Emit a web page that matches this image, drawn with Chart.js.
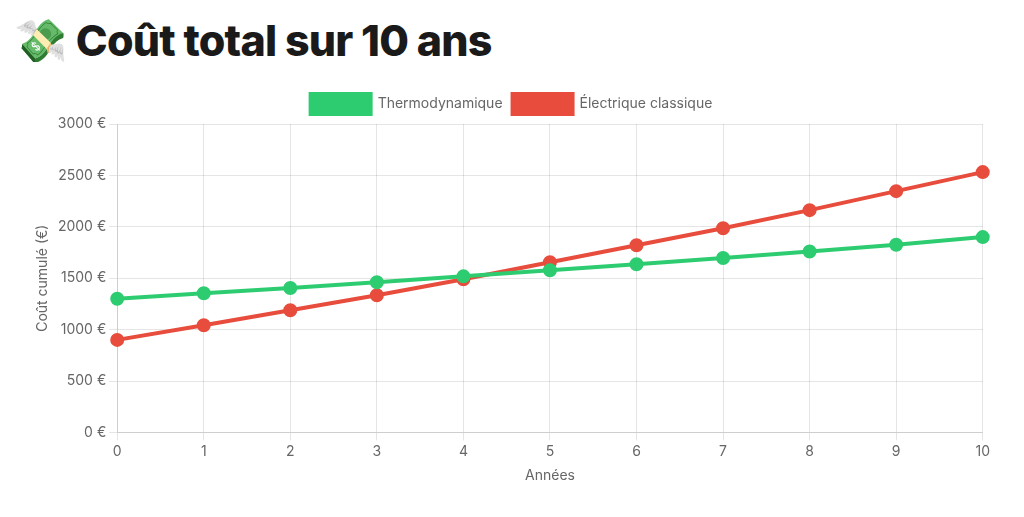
<!DOCTYPE html>
<html>
<head>
<meta charset="utf-8">
<script src="https://cdn.jsdelivr.net/npm/chart.js@4"></script>
<style>
  body { margin: 0; background: #fff; font-family: Inter, "Noto Sans", sans-serif; }
  h1 { margin: 0; padding: 14px 0 0 14px; font-size: 43px; font-weight: 800; color: #1a1a1a; height: 62px; box-sizing: border-box; line-height: 52px; letter-spacing: -0.8px; }
  #wrap { position: absolute; left: 22px; top: 84px; width: 971px; height: 404px; }
</style>
</head>
<body>
<h1>💸 Coût total sur 10 ans</h1>
<div id="wrap"><canvas id="cost_chart"></canvas></div>
<script>
var cost_chart = document.getElementById('cost_chart');

// data
const years = ['0', '1', '2', '3', '4', '5', '6', '7', '8', '9', '10'];
const thermo = [1300, 1353, 1405, 1460, 1518, 1577, 1636, 1697, 1760, 1826, 1900];
const electrique = [900, 1042, 1188, 1334, 1490, 1655, 1821, 1986, 2162, 2347, 2532];

Chart.defaults.font.family = 'Inter, "Noto Sans", sans-serif';
Chart.defaults.color = '#666';

var costChart = new Chart(cost_chart, {
  type: 'line',
  data: {
    labels: years,
    datasets: [{
      label: 'Thermodynamique',
      data: thermo,
      borderColor: '#2ecc71',
      backgroundColor: '#2ecc71',
      borderWidth: 4,
      pointRadius: 5,
      tension: 0
    }, {
      label: 'Électrique classique',
      data: electrique,
      borderColor: '#e74c3c',
      backgroundColor: '#e74c3c',
      borderWidth: 4,
      pointRadius: 5,
      tension: 0
    }]
  },
  options: {
    responsive: true,
    maintainAspectRatio: false,
    animation: false,
    layout: { padding: { left: 8 } },
    plugins: {
      legend: { labels: { font: { size: 14 }, boxWidth: 60, boxHeight: 20 } }
    },
    scales: {
      x: {
        title: { display: true, text: 'Années', font: { size: 14 } },
        ticks: { font: { size: 14 } }
      },
      y: {
        min: 0, max: 3000,
        title: { display: true, text: 'Coût cumulé (€)', font: { size: 14 } },
        ticks: { stepSize: 500, font: { size: 14 }, callback: v => v + ' €' }
      }
    }
  }
});
</script>
</body>
</html>
